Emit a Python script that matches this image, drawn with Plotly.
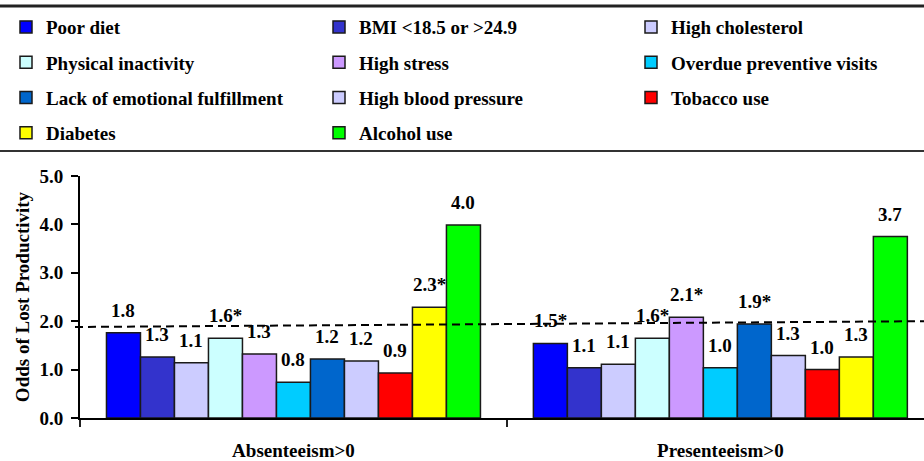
import plotly.graph_objects as go

categories = ["Absenteeism>0", "Presenteeism>0"]

risk_factors = [
    "Poor diet", "BMI <18.5 or >24.9", "High cholesterol",
    "Physical inactivity", "High stress", "Overdue preventive visits",
    "Lack of emotional fulfillment", "High blood pressure", "Tobacco use",
    "Diabetes", "Alcohol use",
]

absenteeism_values = [1.76, 1.26, 1.14, 1.65, 1.32, 0.74, 1.22, 1.18, 0.93, 2.29, 3.99]
presenteeism_values = [1.54, 1.04, 1.11, 1.65, 2.08, 1.04, 1.94, 1.29, 1.00, 1.26, 3.75]

absenteeism_labels = ["1.8", "1.3", "1.1", "1.6*", "1.3", "0.8", "1.2", "1.2", "0.9", "2.3*", "4.0"]
presenteeism_labels = ["1.5*", "1.1", "1.1", "1.6*", "2.1*", "1.0", "1.9*", "1.3", "1.0", "1.3", "3.7"]

colors = ["#0000FF", "#3333CC", "#CCCCFF", "#CCFFFF", "#CC99FF", "#00CCFF",
          "#0066CC", "#CCCCFF", "#FF0000", "#FFFF00", "#00FF00"]

reference_line = [1.88, 2.00]
y_ticks = [0, 1, 2, 3, 4, 5]

FONT = "Liberation Serif, Times New Roman, DejaVu Serif, serif"
BARGAP = 0.124

fig = go.Figure()
legend_ids = ["legend", "legend2", "legend3"]
for i, name in enumerate(risk_factors):
    fig.add_trace(go.Bar(
        name=name,
        x=categories,
        y=[absenteeism_values[i], presenteeism_values[i]],
        marker=dict(color=colors[i], line=dict(color="#1a1a1a", width=1.5)),
        legend=legend_ids[i % 3],
        legendgroup=name,
        hoverinfo="skip",
    ))

n = len(risk_factors)
w = (1 - BARGAP) / n
annotations = []
for ci, (vals, labs) in enumerate([(absenteeism_values, absenteeism_labels),
                                   (presenteeism_values, presenteeism_labels)]):
    for i in range(n):
        annotations.append(dict(
            x=ci + (i - (n - 1) / 2) * w, y=vals[i], xref="x", yref="y",
            text=labs[i], showarrow=False, yanchor="bottom", yshift=10,
            font=dict(family=FONT, size=19, color="black", weight="bold"),
        ))

legend_common = dict(
    orientation="v", xanchor="left", yanchor="top", y=1.694,
    bgcolor="rgba(0,0,0,0)", tracegroupgap=7.6,
    font=dict(family=FONT, size=19, color="black", weight="bold"),
)

fig.update_layout(
    width=924, height=461,
    margin=dict(l=80, r=0, t=176, b=43, autoexpand=False),
    paper_bgcolor="white", plot_bgcolor="white",
    barmode="group", bargap=BARGAP, bargroupgap=0,
    font=dict(family=FONT, size=18, color="black"),
    legend=dict(x=(6 - 80) / 844, **legend_common),
    legend2=dict(x=(319 - 80) / 844, **legend_common),
    legend3=dict(x=(631 - 80) / 844, **legend_common),
    xaxis=dict(
        type="category", range=[-0.5, 1.477], tickson="boundaries",
        ticks="outside", ticklen=7, tickwidth=1.5, tickcolor="#222",
        showline=True, linecolor="black", linewidth=2,
        showgrid=False, zeroline=False, ticklabelstandoff=14,
        tickfont=dict(family=FONT, size=19, color="black", weight="bold"),
    ),
    yaxis=dict(
        range=[0, 5], tickvals=y_ticks, tickformat=".1f",
        ticks="outside", ticklen=7, tickwidth=1.5, tickcolor="black",
        showline=True, linecolor="black", linewidth=2,
        showgrid=False, zeroline=False, ticklabelstandoff=4,
        tickfont=dict(family=FONT, size=19, color="black", weight="bold"),
        title=dict(text="Odds of Lost Productivity", standoff=5,
                   font=dict(family=FONT, size=19, color="black", weight="bold")),
    ),
    annotations=annotations,
    shapes=[
        dict(type="line", xref="paper", yref="paper", x0=-0.1, x1=1.1,
             y0=(418 - 6) / 242, y1=(418 - 6) / 242,
             line=dict(color="#222", width=3)),
        dict(type="line", xref="paper", yref="paper", x0=-0.1, x1=1.1,
             y0=(418 - 151) / 242, y1=(418 - 151) / 242,
             line=dict(color="#333", width=2)),
        dict(type="line", xref="paper", yref="y", x0=-5 / 844, x1=1.0,
             y0=reference_line[0], y1=reference_line[1], layer="above",
             line=dict(color="black", width=2, dash="8px,5px")),
    ],
)

fig.write_html("out.html", config={"displayModeBar": False},
               post_script="document.body.style.margin='0';")
